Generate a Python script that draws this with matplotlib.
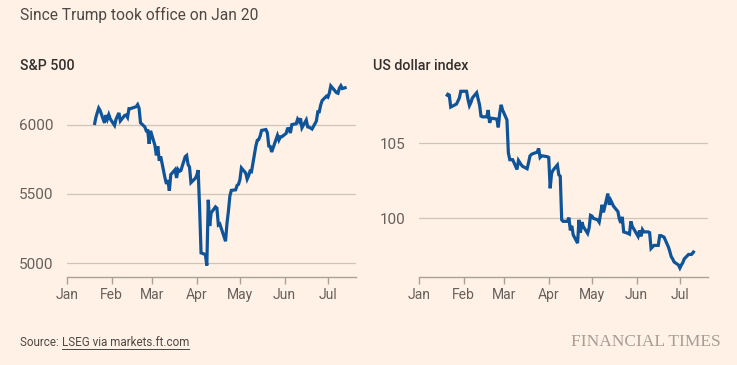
import matplotlib
matplotlib.use("Agg")
import matplotlib.pyplot as plt
import matplotlib.dates as mdates
import datetime as dt
from matplotlib import font_manager as fm

# ---------------- data ----------------
sp_dates = ["01-20", "01-21", "01-22", "01-23", "01-24", "01-27", "01-28", "01-29", "01-30", "01-31",
            "02-03", "02-04", "02-05", "02-06", "02-07", "02-10", "02-11", "02-12", "02-13", "02-14",
            "02-18", "02-19", "02-20", "02-21", "02-24", "02-25", "02-26", "02-27", "02-28",
            "03-03", "03-04", "03-05", "03-06", "03-07", "03-10", "03-11", "03-12", "03-13", "03-14",
            "03-17", "03-18", "03-19", "03-20", "03-21", "03-24", "03-25", "03-26", "03-27", "03-28", "03-31",
            "04-01", "04-02", "04-03", "04-04", "04-07", "04-08", "04-09", "04-10", "04-11", "04-14",
            "04-15", "04-16", "04-17", "04-21", "04-22", "04-23", "04-24", "04-25", "04-28", "04-29", "04-30",
            "05-01", "05-02", "05-05", "05-06", "05-07", "05-08", "05-09", "05-12", "05-13", "05-14",
            "05-15", "05-16", "05-19", "05-20", "05-21", "05-22", "05-23", "05-27", "05-28", "05-29", "05-30",
            "06-02", "06-03", "06-04", "06-05", "06-06", "06-09", "06-10", "06-11", "06-12", "06-13",
            "06-16", "06-17", "06-18", "06-20", "06-23", "06-24", "06-25", "06-26", "06-27", "06-30",
            "07-01", "07-02", "07-03", "07-07", "07-08", "07-09", "07-10", "07-11", "07-14"]
sp_values = [5997, 6049, 6086, 6119, 6101, 6012, 6068, 6039, 6071, 6041,
             5994, 6038, 6061, 6084, 6026, 6066, 6069, 6052, 6115, 6115,
             6129, 6144, 6118, 6013, 5983, 5955, 5956, 5861, 5955,
             5850, 5778, 5843, 5739, 5770, 5614, 5572, 5599, 5522, 5639,
             5675, 5615, 5676, 5663, 5668, 5768, 5777, 5712, 5693, 5581, 5612,
             5633, 5671, 5397, 5074, 5062, 4983, 5457, 5268, 5363, 5406,
             5397, 5276, 5283, 5158, 5288, 5376, 5485, 5525, 5529, 5561, 5569,
             5604, 5687, 5650, 5607, 5631, 5664, 5660, 5844, 5886, 5892,
             5917, 5958, 5964, 5941, 5845, 5842, 5802, 5922, 5889, 5912, 5912,
             5936, 5970, 5971, 5939, 6000, 6006, 6039, 6022, 6045, 5977,
             6033, 5983, 5981, 5968, 6025, 6092, 6092, 6141, 6173, 6205,
             6198, 6227, 6279, 6230, 6226, 6263, 6280, 6260, 6269]

dxy_dates = ["01-20", "01-21", "01-22", "01-23", "01-24", "01-27", "01-28", "01-29", "01-30", "01-31",
             "02-03", "02-04", "02-05", "02-06", "02-07", "02-10", "02-11", "02-12", "02-13", "02-14",
             "02-17", "02-18", "02-19", "02-20", "02-21", "02-24", "02-25", "02-26", "02-27", "02-28",
             "03-03", "03-04", "03-05", "03-06", "03-07", "03-10", "03-11", "03-12", "03-13", "03-14",
             "03-17", "03-18", "03-19", "03-20", "03-21", "03-24", "03-25", "03-26", "03-27", "03-28", "03-31",
             "04-01", "04-02", "04-03", "04-04", "04-07", "04-08", "04-09", "04-10", "04-11", "04-14",
             "04-15", "04-16", "04-17", "04-18", "04-21", "04-22", "04-23", "04-24", "04-25", "04-28",
             "04-29", "04-30", "05-01", "05-02", "05-05", "05-06", "05-07", "05-08", "05-09", "05-12",
             "05-13", "05-14", "05-15", "05-16", "05-19", "05-20", "05-21", "05-22", "05-23", "05-26",
             "05-27", "05-28", "05-29", "05-30", "06-02", "06-03", "06-04", "06-05", "06-06", "06-09",
             "06-10", "06-11", "06-12", "06-13", "06-16", "06-17", "06-18", "06-19", "06-20", "06-23",
             "06-24", "06-25", "06-26", "06-27", "06-30", "07-01", "07-02", "07-03", "07-04", "07-07",
             "07-08", "07-09", "07-10", "07-11"]
dxy_values = [108.1, 108.25, 108.2, 107.4, 107.45, 107.6, 107.8, 108.0, 108.45, 108.45,
              108.45, 107.9, 107.5, 107.7, 108.0, 108.35, 107.95, 107.55, 106.8, 106.75,
              106.75, 107.2, 106.35, 106.65, 106.65, 106.6, 106.05, 107.0, 107.55, 107.2,
              106.55, 104.35, 103.9, 103.9, 103.9, 103.25, 103.85, 103.7, 103.55, 103.45,
              103.3, 103.7, 104.15, 104.25, 104.3, 104.4, 104.65, 104.05, 104.15, 104.15, 104.1,
              104.05, 102.0, 103.0, 103.2, 103.55, 102.9, 102.8, 99.9, 99.8, 99.8,
              100.05, 99.2, 99.5, 98.9, 98.35, 99.9, 99.05, 99.75, 99.45, 99.0,
              99.35, 100.2, 100.15, 100.0, 99.9, 99.75, 100.3, 100.9, 100.4, 101.65,
              100.9, 101.2, 101.0, 100.8, 100.45, 99.95, 99.7, 100.1, 99.1, 99.0,
              98.95, 99.8, 99.45, 99.3, 98.8, 99.2, 98.8, 99.25, 99.1, 99.1,
              99.05, 98.0, 98.1, 98.2, 98.2, 98.85, 98.85, 98.8, 98.75, 98.1,
              97.8, 97.45, 97.3, 97.1, 96.9, 96.7, 96.9, 97.05, 97.3, 97.6,
              97.6, 97.6, 97.7, 97.85]

year = 2025
month_labels = ["Jan", "Feb", "Mar", "Apr", "May", "Jun", "Jul"]
sp_yticks = [5000, 5500, 6000]
dxy_yticks = [100, 105]

title = "Since Trump took office on Jan 20"
left_title = "S&P 500"
right_title = "US dollar index"
source_prefix = "Source: "
source_link = "LSEG via markets.ft.com"
brand = "FINANCIAL TIMES"

# ---------------- style ----------------
BG = "#FFF1E5"
LINE = "#0F5499"
GRID = "#CEC4BA"
AXIS = "#A9A199"
TICKTXT = "#66605C"
TXT = "#33302E"

installed = {f.name for f in fm.fontManager.ttflist}
def pick(*names):
    for n in names:
        if n in installed:
            return n
    return "DejaVu Sans"

SANS = pick("Roboto", "Lato", "Liberation Sans")
NARROW = pick("Liberation Sans Narrow", "Roboto", "Lato")
SERIF = pick("Liberation Serif", "DejaVu Serif")
plt.rcParams["font.family"] = [SANS, "DejaVu Sans"]


def to_dates(lst):
    out = []
    for s in lst:
        m, d = s.split("-")
        out.append(dt.datetime(year, int(m), int(d)))
    return out


W, H = 737, 365
fig = plt.figure(figsize=(W / 100, H / 100), dpi=100)
fig.patch.set_facecolor(BG)

def fx(px):
    return px / W

def fy(py):
    return 1 - py / H

ax_top, ax_bot = 83, 277
axL = fig.add_axes([fx(67), fy(ax_bot), fx(289), (ax_bot - ax_top) / H])
axR = fig.add_axes([fx(419), fy(ax_bot), fx(289), (ax_bot - ax_top) / H])

month_ticks = [dt.datetime(year, m, 1) for m in range(1, 8)]
xmin = dt.datetime(year, 1, 1)
xmax = dt.datetime(year, 7, 20, 12)

def style(ax, yticks, ylim):
    ax.set_facecolor(BG)
    for s in ["top", "right", "left"]:
        ax.spines[s].set_visible(False)
    ax.spines["bottom"].set_color(AXIS)
    ax.spines["bottom"].set_linewidth(1.0)
    ax.set_xlim(xmin, xmax)
    ax.set_ylim(*ylim)
    ax.set_xticks(month_ticks)
    ax.set_xticklabels(month_labels)
    ax.set_yticks(yticks)
    ax.set_yticklabels([str(v) for v in yticks])
    ax.tick_params(axis="y", length=0, pad=9.5, labelsize=11, labelcolor=TICKTXT)
    ax.tick_params(axis="x", length=5, width=1.0, color=AXIS, pad=3,
                   labelsize=10, labelcolor=TICKTXT)
    ax.grid(axis="y", color=GRID, linewidth=0.9)
    ax.set_axisbelow(True)

style(axL, sp_yticks, (4900, 6300))
style(axR, dxy_yticks, (96.1, 109.0))

axL.plot(to_dates(sp_dates), sp_values, color=LINE, linewidth=2.3,
         solid_joinstyle="miter", solid_capstyle="butt", clip_on=False)
axR.plot(to_dates(dxy_dates), dxy_values, color=LINE, linewidth=2.3,
         solid_joinstyle="miter", solid_capstyle="butt", clip_on=False)

# ---------------- texts ----------------
fig.text(fx(20), fy(15), title, fontsize=11.2, color="#4D4845", va="center", ha="left")
fig.text(fx(20), fy(66), left_title, fontsize=10.3, color=TXT, va="center", ha="left",
         fontweight="medium")
fig.text(fx(373), fy(66), right_title, fontsize=10.3, color=TXT, va="center", ha="left",
         fontweight="medium")

t1 = fig.text(fx(20), fy(343), source_prefix, fontsize=8.4, color="#4D4845",
              va="center", ha="left", family=[NARROW, "DejaVu Sans"])
fig.canvas.draw()
r = fig.canvas.get_renderer()
bb = t1.get_window_extent(r)
t2 = fig.text(bb.x1 / W, fy(343), source_link, fontsize=8.4, color="#4D4845",
              va="center", ha="left", family=[NARROW, "DejaVu Sans"])
fig.canvas.draw()
bb2 = t2.get_window_extent(r)
uy = bb2.y0 + 1
fig.add_artist(plt.Line2D([bb2.x0 / W, bb2.x1 / W], [uy / H, uy / H],
                          color="#4D4845", linewidth=0.7))

fig.text(fx(721), fy(342), brand, fontsize=12.5, color="#A59D96", va="center", ha="right",
         family=[SERIF, "DejaVu Serif"])

fig.savefig("out.png", dpi=100, facecolor=BG)
